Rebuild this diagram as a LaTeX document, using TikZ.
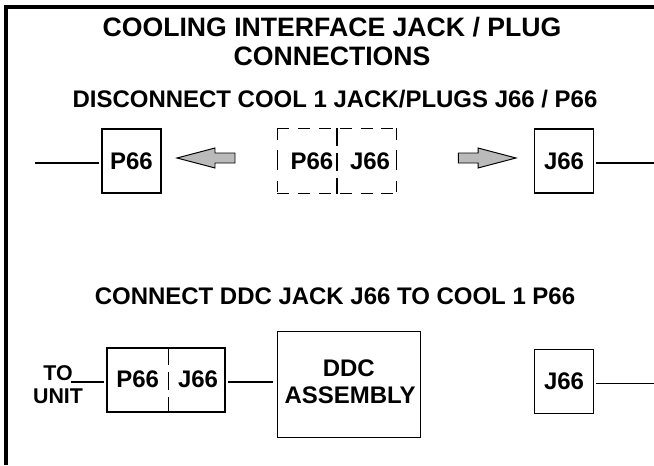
\documentclass[tikz,border=0pt]{standalone}
\usepackage{fontspec}
\setmainfont{Liberation Sans}
\begin{document}
\begin{tikzpicture}[font=\bfseries,line cap=butt,
  framerule/.style={line width=2.7pt},
  headtext/.style={font=\fontsize{18.95}{18.95}\bfseries},
  subtext/.style={font=\fontsize{17.05}{17.05}\bfseries},
  sidetext/.style={font=\fontsize{15.2}{15.2}\bfseries},
  jackbox/.style={draw,line width=0.75pt,minimum width=1.475cm,minimum height=1.6cm,inner sep=0pt,font=\fontsize{17.05}{17.05}\bfseries},
  pairbox/.style={jackbox,minimum width=2.95cm},
  wire/.style={line width=0.75pt},
  longdash/.style={wire,dash pattern=on 0.3cm off 0.22cm},
  sidedash/.style={wire,dash pattern=on 0.28cm off 0.27cm on 0.5cm off 0.27cm on 0.28cm off 0.3cm},
  splitdash/.style={wire,dash pattern=on 0.45cm off 0.17cm},
  blockarrow/.style={draw,line width=0.7pt,fill=black!27,line join=miter}]
\useasboundingbox (0,0) rectangle (16.35,11.625);
\draw[framerule] (0.15,0) -- (0.15,11.45) -- (16.35,11.45);
\node[headtext] (head1) at (8.3,10.95) {COOLING INTERFACE JACK / PLUG};
\node[headtext] (head2) at (8.3,10.225) {CONNECTIONS};
\node[subtext] (sub1) at (8.375,9.15) {DISCONNECT COOL 1 JACK/PLUGS J66 / P66};
\node[subtext] (sub2) at (8.375,4.225) {CONNECT DDC JACK J66 TO COOL 1 P66};
\node[jackbox] (plugA) at (3.2875,7.6) {P66};
\coordinate (wireA) at (0.875,7.55);
\draw[wire,shorten >=0.05cm] (wireA) -- (wireA -| plugA.west);
\node[pairbox,draw=none] (pairA) at (8.425,7.6) {};
\draw[longdash] (pairA.north west) -- (pairA.north east);
\draw[longdash] (pairA.south west) -- (pairA.south east);
\draw[sidedash] (pairA.north west) -- (pairA.south west);
\draw[sidedash] (pairA.north east) -- (pairA.south east);
\draw[splitdash] (pairA.north) -- (pairA.south);
\node[subtext] (plugAlabel) at (7.8,7.6) {P66};
\node[subtext] (jackAlabel) at (9.25,7.6) {J66};
\node[jackbox] (jackA) at (14.1,7.6) {J66};
\coordinate (wireB) at (16.35,7.55);
\draw[wire,shorten >=0.05cm] (wireB) -- (wireB -| jackA.east);
\filldraw[blockarrow] (4.425,7.675) -- (5.375,7.925) -- (5.375,7.8) -- (5.875,7.8) -- (5.875,7.55) -- (5.375,7.55) -- (5.375,7.425) -- cycle;
\filldraw[blockarrow] (12.9,7.675) -- (11.95,7.925) -- (11.95,7.8) -- (11.46,7.8) -- (11.46,7.55) -- (11.95,7.55) -- (11.95,7.425) -- cycle;
\node[pairbox] (pairB) at (4.15,2.125) {};
\coordinate (splitT) at (4.2125,2.125 |- pairB.north);
\coordinate (splitB) at (4.2125,2.125 |- pairB.south);
\draw[splitdash] (splitT) -- (splitB);
\node[subtext] (plugBlabel) at (3.44,2.15) {P66};
\node[subtext] (jackBlabel) at (4.95,2.15) {J66};
\node[sidetext] (tolabel) at (1.45,2.29) {TO};
\node[sidetext] (unitlabel) at (1.45,1.725) {UNIT};
\coordinate (wireC) at (1.775,2.075);
\draw[wire,shorten >=0.05cm] (wireC) -- (wireC -| pairB.west);
\node[jackbox,minimum width=3.59cm,minimum height=2.63cm,line width=0.55pt] (ddc) at (8.72,2.0175) {};
\node[subtext] (ddclabel1) at (8.72,2.425) {DDC};
\node[subtext] (ddclabel2) at (8.75,1.75) {ASSEMBLY};
\coordinate (wireD) at (pairB.east |- wireC);
\draw[wire,shorten <=0.05cm,shorten >=0.09cm] (wireD) -- (wireD -| ddc.west);
\node[jackbox] (jackB) at (14.1,2.09) {J66};
\coordinate (wireE) at (16.35,2.04);
\draw[wire,shorten >=0.05cm] (wireE) -- (wireE -| jackB.east);
\end{tikzpicture}
\end{document}
